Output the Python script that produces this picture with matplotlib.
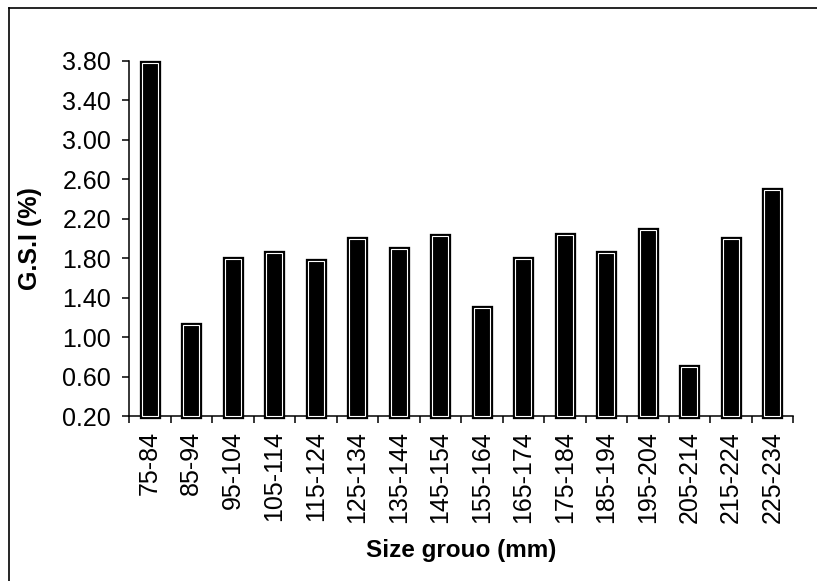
import matplotlib
matplotlib.use("Agg")
import matplotlib.pyplot as plt
import matplotlib.patheffects as pe
from matplotlib.lines import Line2D
import numpy as np

size_groups = ["75-84", "85-94", "95-104", "105-114", "115-124", "125-134",
               "135-144", "145-154", "155-164", "165-174", "175-184", "185-194",
               "195-204", "205-214", "215-224", "225-234"]
gsi_values = [3.78, 1.12, 1.79, 1.85, 1.77, 1.99, 1.89, 2.03,
              1.30, 1.79, 2.04, 1.85, 2.09, 0.70, 1.99, 2.49]
y_ticks = [0.20, 0.60, 1.00, 1.40, 1.80, 2.20, 2.60, 3.00, 3.40, 3.80]

plt.rcParams["font.family"] = ["Liberation Sans", "DejaVu Sans"]

W, H = 817, 581
fig = plt.figure(figsize=(W / 100, H / 100), dpi=100)

left, right, top, bottom = 129, 793, 61, 416
ax = fig.add_axes([left / W, 1 - bottom / H, (right - left) / W, (bottom - top) / H])

y_min, y_max = y_ticks[0], y_ticks[-1]
x = np.arange(len(size_groups))
# bars rise from the axis minimum, as in the spreadsheet original
bars = ax.bar(x, np.array(gsi_values) - y_min, width=0.39, bottom=y_min, color="black",
              edgecolor="white", linewidth=0.8, zorder=3)
for b in bars:
    b.set_clip_on(False)
    b.set_path_effects([pe.Stroke(linewidth=3.8, foreground="black"), pe.Normal()])

ax.set_ylim(y_min, y_max)
ax.set_xlim(-0.5, len(size_groups) - 0.5)
ax.set_yticks(y_ticks)
ax.set_yticklabels([f"{v:.2f}" for v in y_ticks])

# category boundaries carry the ticks; labels sit at the centres
ax.set_xticks(np.arange(-0.5, len(size_groups), 1.0))
ax.set_xticklabels([])
ax.set_xticks(x, minor=True)
ax.set_xticklabels(size_groups, minor=True, rotation=90)
ax.tick_params(axis="x", which="major", direction="out", length=5, width=1.1, color="black")
ax.tick_params(axis="x", which="minor", length=0, pad=11, labelsize=18)
ax.tick_params(axis="y", direction="out", length=5, width=1.1, pad=8, labelsize=18)

for s in ("top", "right"):
    ax.spines[s].set_visible(False)
for s in ("left", "bottom"):
    ax.spines[s].set_linewidth(1.1)

ax.set_ylabel("G.S.I (%)", fontsize=18, fontweight="bold", va="center")
ax.yaxis.set_label_coords(-0.149, 0.5)
ax.set_xlabel("Size grouo (mm)", fontsize=17.5, fontweight="bold", va="center")
ax.xaxis.set_label_coords(0.5, -0.38)

# outer frame (left and top edges)
fx0, fy0 = 8.5 / W, 1 - 7.5 / H
fig.add_artist(Line2D([fx0, fx0], [0, fy0], transform=fig.transFigure, color="black", lw=1.2))
fig.add_artist(Line2D([fx0, 1], [fy0, fy0], transform=fig.transFigure, color="black", lw=1.2))

fig.savefig("out.png", dpi=100, facecolor="white")
